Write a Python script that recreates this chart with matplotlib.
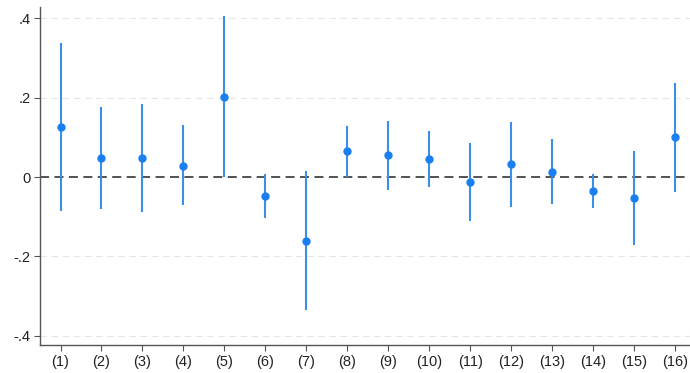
import matplotlib

matplotlib.use("Agg")
import matplotlib.pyplot as plt
import numpy as np

labels = [f"({i})" for i in range(1, 17)]
coef = [0.126, 0.049, 0.049, 0.029, 0.202, -0.048, -0.160, 0.065,
        0.055, 0.046, -0.012, 0.032, 0.013, -0.034, -0.053, 0.100]
ci_hi = [0.338, 0.177, 0.184, 0.130, 0.406, 0.008, 0.016, 0.129,
         0.142, 0.117, 0.087, 0.138, 0.095, 0.008, 0.065, 0.237]
ci_lo = [-0.086, -0.080, -0.088, -0.071, 0.001, -0.104, -0.336, 0.001,
         -0.033, -0.024, -0.111, -0.076, -0.067, -0.078, -0.171, -0.038]
yticks = [-0.4, -0.2, 0, 0.2, 0.4]
ytick_labels = ["-.4", "-.2", "0", ".2", ".4"]

plt.rcParams["font.family"] = ["Liberation Sans", "DejaVu Sans"]

x = np.arange(1, len(coef) + 1)
fig = plt.figure(figsize=(6.9, 3.73), dpi=100)
ax = fig.add_axes([0.058, 0.075, 0.95, 0.906])

for yv in yticks:
    if yv != 0:
        ax.axhline(yv, color="#e6e6e6", lw=0.8, ls=(0, (6, 4)), zorder=0)
ax.axhline(0, color="#444444", lw=1.3, ls=(0, (5, 3)), zorder=1)

ax.vlines(x, ci_lo, ci_hi, color="#3d8ee6", lw=1.5, zorder=2)
ax.plot(x, coef, "o", color="#1a7ff0", ms=5, zorder=3)

ax.set_xlim(0.5, 16.5)
ax.set_ylim(-0.423, 0.428)
ax.set_xticks(x)
ax.set_xticklabels(labels)
ax.set_yticks(yticks)
ax.set_yticklabels(ytick_labels)
ax.tick_params(labelsize=10.5, colors="#222222", length=4, width=0.8, pad=3)
ax.tick_params(axis="both", color="#555555")
for s in ["top", "right"]:
    ax.spines[s].set_visible(False)
for s in ["left", "bottom"]:
    ax.spines[s].set_color("#555555")
    ax.spines[s].set_linewidth(1.0)

fig.savefig("out.png", dpi=100)
